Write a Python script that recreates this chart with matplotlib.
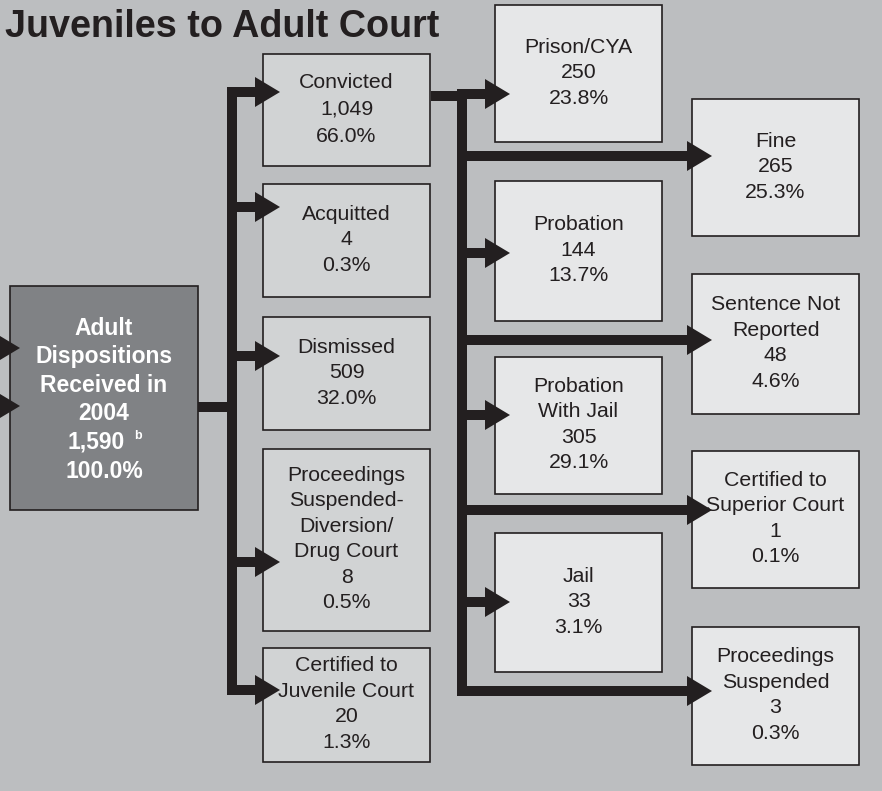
import matplotlib
matplotlib.use("Agg")
import matplotlib.pyplot as plt
from matplotlib.patches import Rectangle

# ---- data ----
title = "Juveniles to Adult Court"
total_label = ["Adult", "Dispositions", "Received in", "2004"]
total_count = "1,590"
total_pct = "100.0%"

disp_labels = [["Convicted"], ["Acquitted"], ["Dismissed"],
               ["Proceedings", "Suspended-", "Diversion/", "Drug Court"],
               ["Certified to", "Juvenile Court"]]
disp_counts = ["1,049", "4", "509", "8", "20"]
disp_pcts = ["66.0%", "0.3%", "32.0%", "0.5%", "1.3%"]

sent_a_labels = [["Prison/CYA"], ["Probation"], ["Probation", "With Jail"], ["Jail"]]
sent_a_counts = ["250", "144", "305", "33"]
sent_a_pcts = ["23.8%", "13.7%", "29.1%", "3.1%"]

sent_b_labels = [["Fine"], ["Sentence Not", "Reported"], ["Certified to", "Superior Court"],
                 ["Proceedings", "Suspended"]]
sent_b_counts = ["265", "48", "1", "3"]
sent_b_pcts = ["25.3%", "4.6%", "0.1%", "0.3%"]

# ---- layout (pixel coords, y down) ----
W, H = 882, 791
bg = "#bcbec0"
ink = "#231f20"
mid_fill = "#d1d3d4"
right_fill = "#e6e7e8"
dark_fill = "#808285"

mid_x = (263, 430)
mid_y = [(54, 166), (184, 297), (317, 430), (449, 631), (648, 762)]
mid_arrow_y = [92, 207, 356, 562, 690]

a_x = (495, 662)
a_y = [(5, 142), (181, 321), (357, 494), (533, 672)]
a_arrow_y = [94, 253, 415, 602]

b_x = (692, 859)
b_y = [(99, 236), (274, 414), (451, 588), (627, 765)]
b_arrow_y = [156, 340, 510, 691]

trunk1_x = 232
trunk2_x = 462
lw = 10 * 72 / 100  # 10 px line

plt.rcParams['font.family'] = ['Liberation Sans', 'DejaVu Sans']

fig = plt.figure(figsize=(W / 100, H / 100), dpi=100, facecolor=bg)
ax = fig.add_axes([0, 0, 1, 1])
ax.set_xlim(0, W)
ax.set_ylim(H, 0)
ax.set_facecolor(bg)
ax.axis("off")


def box(x, y, fill, z=2):
    ax.add_patch(Rectangle((x[0], y[0]), x[1] - x[0], y[1] - y[0],
                           facecolor=fill, edgecolor=ink, linewidth=1.2, zorder=z))


def lines_in_box(x, y, lines, step=25.5, size=15.3, color=ink, weight="normal", dy=-3, xoff=None):
    cx = (x[0] + x[1]) / 2
    cy = (y[0] + y[1]) / 2 + dy
    n = len(lines)
    for i, s in enumerate(lines):
        yy = cy + (i - (n - 1) / 2) * step + 0.36 * size * 100 / 72
        xx = cx + (xoff[i] if xoff else 0)
        ax.text(xx, yy, s, ha="center", va="baseline", fontsize=size,
                color=color, fontweight=weight, zorder=5)


def head(x_tip, y, length=25, half=15):
    ax.fill([x_tip - length, x_tip, x_tip - length], [y - half, y, y + half],
            color=ink, lw=0, zorder=4)


def seg(xs, ys, cap="projecting"):
    ax.plot(xs, ys, color=ink, lw=lw, solid_capstyle=cap,
            solid_joinstyle="miter", zorder=3)


# title
ax.text(5, 37, title, fontsize=27.2, fontweight="bold", color=ink, va="baseline", ha="left")

# left total box
left_x, left_y = (10, 198), (286, 510)
box(left_x, left_y, dark_fill)
lines_in_box(left_x, left_y, total_label + [total_count, total_pct], step=28.5,
             size=16.5, color="white", weight="bold", dy=0, xoff=[0, 0, 0, 0, -8, 0])
ax.text(134, 439, "b", fontsize=9, color="white", fontweight="bold", zorder=5)

# incoming arrows from the left edge
for yy in [348, 406]:
    seg([-20, -3], [yy, yy])
    head(20, yy)

# left box -> trunk 1
seg([198, trunk1_x], [407, 407], cap="butt")
seg([trunk1_x, trunk1_x], [mid_arrow_y[0], mid_arrow_y[-1]])
for i, yy in enumerate(mid_arrow_y):
    seg([trunk1_x, 256], [yy, yy])
    head(280, yy)

# middle boxes
for i in range(len(disp_labels)):
    box(mid_x, mid_y[i], mid_fill)
    step = 27 if i == 0 else 25.5
    lines_in_box(mid_x, mid_y[i], disp_labels[i] + [disp_counts[i], disp_pcts[i]], step=step)

# convicted -> trunk 2
seg([mid_x[1] + 1, trunk2_x], [96, 96], cap="butt")
seg([trunk2_x, trunk2_x], [96, b_arrow_y[-1]])
for yy in a_arrow_y:
    seg([trunk2_x, 486], [yy, yy])
    head(510, yy)
for yy in b_arrow_y:
    seg([trunk2_x, 688], [yy, yy])
    head(712, yy)

# sentence boxes
for i in range(len(sent_a_labels)):
    box(a_x, a_y[i], right_fill, z=2)
    lines_in_box(a_x, a_y[i], sent_a_labels[i] + [sent_a_counts[i], sent_a_pcts[i]])
for i in range(len(sent_b_labels)):
    box(b_x, b_y[i], right_fill, z=2)
    lines_in_box(b_x, b_y[i], sent_b_labels[i] + [sent_b_counts[i], sent_b_pcts[i]])

fig.savefig("out.png", dpi=100, facecolor=bg)
